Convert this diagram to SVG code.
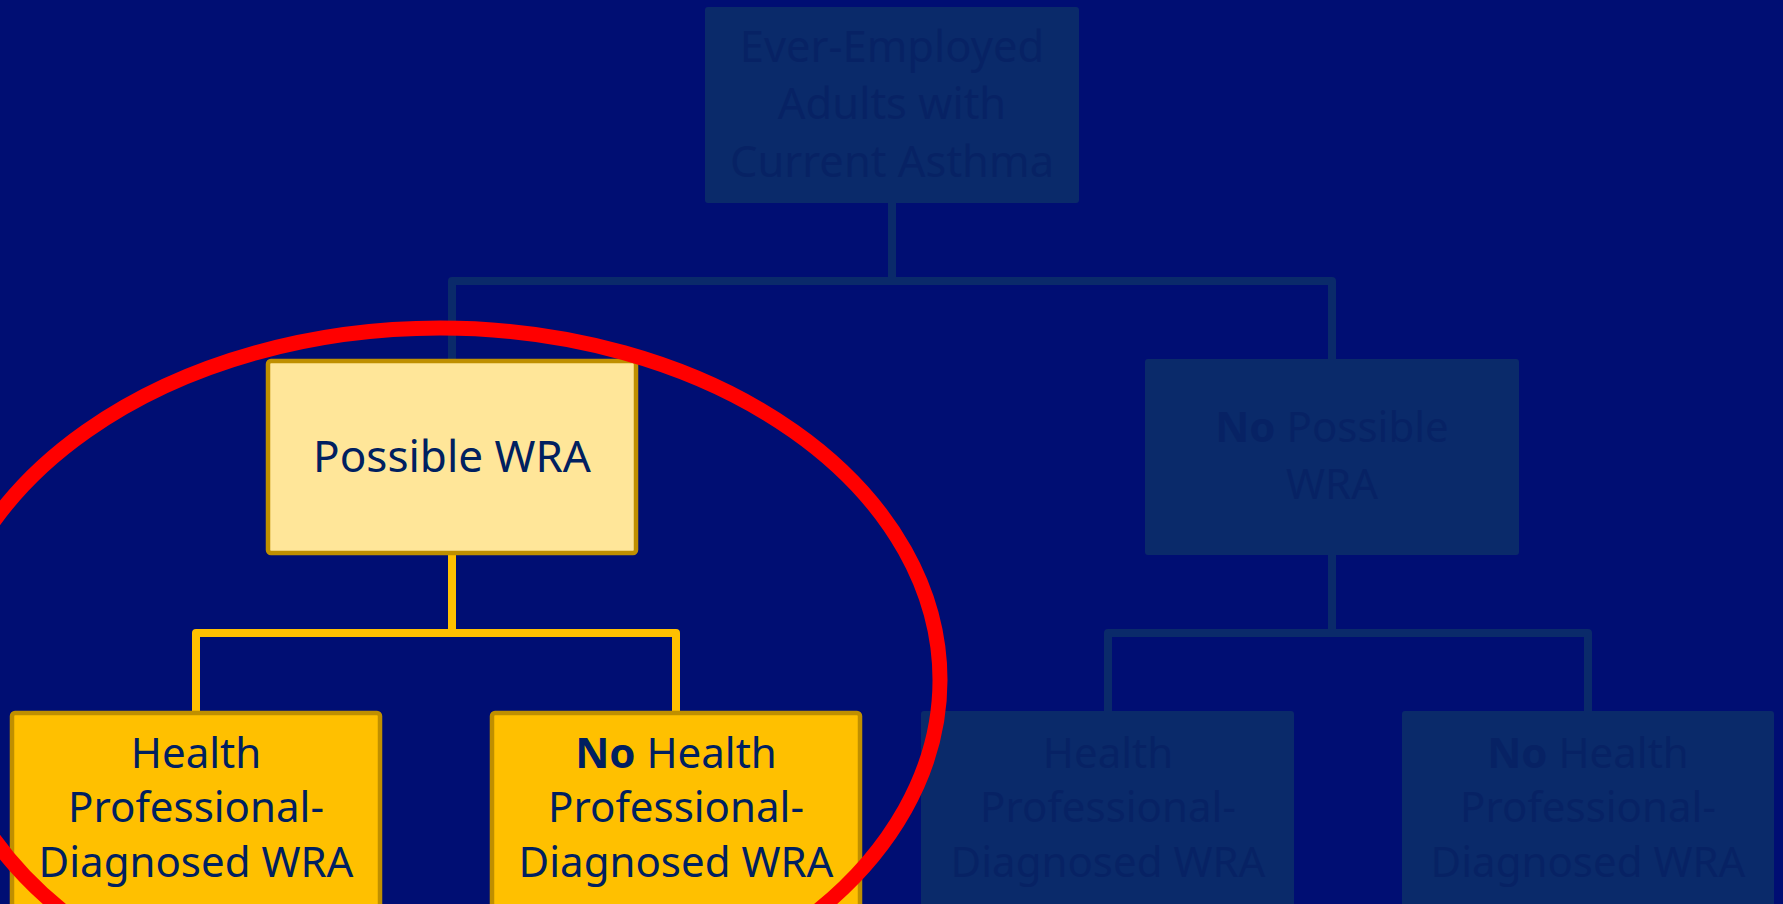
<svg xmlns="http://www.w3.org/2000/svg" width="1783" height="904" viewBox="0 0 1783 904">
<style>
  .ghost { fill: #0A2A6A; }
  .gtext { fill: #072264; font-family: "Noto Sans", "Open Sans", sans-serif; font-size: 42px; text-anchor: middle; }
  .light { fill: #FFE699; stroke: #BF8F00; stroke-width: 4.5; }
  .gold { fill: #FFC000; stroke: #BF8F00; stroke-width: 4.5; }
  .ntext { fill: #002060; font-family: "Noto Sans", "Open Sans", sans-serif; font-size: 42px; text-anchor: middle; }
  .big { font-size: 43.5px; }
  .bigger { font-size: 44px; }
  .b { font-weight: bold; }
  .dconn { fill: none; stroke: #0A2A6A; stroke-width: 8; stroke-linejoin: round; }
  .yconn { fill: none; stroke: #FFC000; stroke-width: 8; stroke-linejoin: round; }
</style>
<rect x="0" y="0" width="1783" height="904" fill="#000E73"/>
<g id="connectors">
  <path class="dconn" d="M892 203 V281 M452 361 V281 H1332 V359"/>
  <path class="dconn" d="M1332 555 V633 M1108 711 V633 H1588 V711"/>
  <path class="yconn" d="M452 553 V633 M196 713 V633 H676 V713"/>
</g>
<g id="node-root">
  <rect class="ghost" x="705" y="7" width="374" height="196" rx="3"/>
  <text class="gtext big"><tspan x="892" y="62">Ever-Employed</tspan><tspan x="892" y="119">Adults with</tspan><tspan x="892" y="177">Current Asthma</tspan></text>
</g>
<g id="node-possible">
  <rect class="light" x="268" y="361" width="368" height="192" rx="3"/>
  <text class="ntext bigger" x="452" y="472">Possible WRA</text>
</g>
<g id="node-nopossible">
  <rect class="ghost" x="1145" y="359" width="374" height="196" rx="3"/>
  <text class="gtext"><tspan x="1332" y="442"><tspan class="b">No</tspan> Possible</tspan><tspan x="1332" y="499">WRA</tspan></text>
</g>
<g id="node-hp-diag">
  <rect class="gold" x="12" y="713" width="368" height="220" rx="3"/>
  <text class="ntext"><tspan x="196" y="768">Health</tspan><tspan x="196" y="822">Professional-</tspan><tspan x="196" y="877">Diagnosed WRA</tspan></text>
</g>
<g id="node-no-hp-diag">
  <rect class="gold" x="492" y="713" width="368" height="220" rx="3"/>
  <text class="ntext"><tspan x="676" y="768"><tspan class="b">No</tspan> Health</tspan><tspan x="676" y="822">Professional-</tspan><tspan x="676" y="877">Diagnosed WRA</tspan></text>
</g>
<g id="node-ghost-hp-diag">
  <rect class="ghost" x="921" y="711" width="373" height="220" rx="3"/>
  <text class="gtext"><tspan x="1108" y="768">Health</tspan><tspan x="1108" y="822">Professional-</tspan><tspan x="1108" y="877">Diagnosed WRA</tspan></text>
</g>
<g id="node-ghost-no-hp-diag">
  <rect class="ghost" x="1402" y="711" width="372" height="220" rx="3"/>
  <text class="gtext"><tspan x="1588" y="768"><tspan class="b">No</tspan> Health</tspan><tspan x="1588" y="822">Professional-</tspan><tspan x="1588" y="877">Diagnosed WRA</tspan></text>
</g>
<g id="highlight">
  <ellipse cx="440" cy="680" rx="500" ry="352" fill="none" stroke="#FF0000" stroke-width="15"/>
</g>
</svg>
